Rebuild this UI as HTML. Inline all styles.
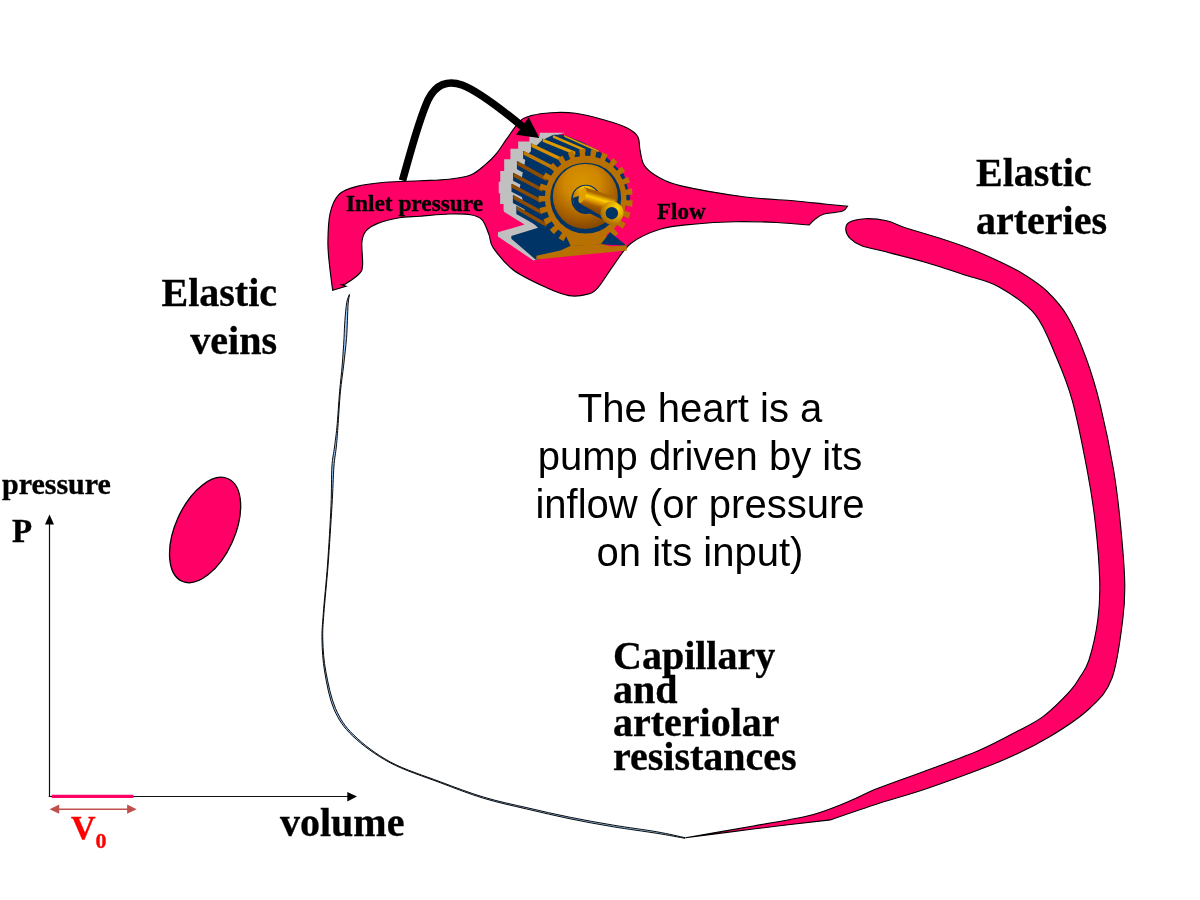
<!DOCTYPE html>
<html><head><meta charset="utf-8"><style>
html,body{margin:0;padding:0;background:#fff;-webkit-font-smoothing:antialiased;}
body{width:1200px;height:900px;position:relative;overflow:hidden;}
svg{position:absolute;left:0;top:0;}
.t{will-change:transform;-webkit-text-stroke:0.35px currentColor;position:absolute;white-space:nowrap;font-family:"Liberation Serif",serif;font-weight:bold;color:#000;line-height:1;}
.s{will-change:transform;position:absolute;white-space:nowrap;font-family:"Liberation Sans",sans-serif;color:#000;text-align:center;}
</style></head><body>
<svg width="1200" height="900" viewBox="0 0 1200 900">
<defs>
<radialGradient id="disc" cx="0.45" cy="0.3" r="0.75">
<stop offset="0" stop-color="#D89400"/><stop offset="0.35" stop-color="#D08800"/><stop offset="0.7" stop-color="#A86000"/><stop offset="1" stop-color="#7A4000"/>
</radialGradient>
<radialGradient id="hubg" cx="0.5" cy="0.1" r="0.8">
<stop offset="0" stop-color="#FFD000"/><stop offset="0.5" stop-color="#D89000"/><stop offset="1" stop-color="#A06000"/>
</radialGradient>
<linearGradient id="shaft" x1="0" y1="0" x2="0" y2="1" gradientUnits="objectBoundingBox">
<stop offset="0" stop-color="#FFD000"/><stop offset="0.5" stop-color="#D89000"/><stop offset="1" stop-color="#8A5000"/>
</linearGradient>
<radialGradient id="cap" cx="0.7" cy="0.3" r="0.8">
<stop offset="0" stop-color="#FFD800"/><stop offset="0.45" stop-color="#E0A800"/><stop offset="1" stop-color="#A06000"/>
</radialGradient>
<linearGradient id="shaft2" gradientUnits="userSpaceOnUse" x1="620" y1="430" x2="590" y2="530">
<stop offset="0" stop-color="#A86400"/><stop offset="0.3" stop-color="#FFD000"/><stop offset="0.55" stop-color="#D89000"/><stop offset="0.75" stop-color="#A86000"/><stop offset="1" stop-color="#8A4A00"/>
</linearGradient>
</defs>
<path d="M349.3,294.5 C348.9,295.9 347.4,298.4 346.7,302.8 C346.0,307.2 345.3,314.7 344.9,320.6 C344.4,326.5 344.4,330.9 344.0,338.3 C343.6,345.7 342.9,356.1 342.2,365.0 C341.5,373.9 340.5,381.3 339.6,391.7 C338.7,402.1 337.8,418.0 336.9,427.2 C336.0,436.4 335.3,440.4 334.5,447.0 C333.7,453.6 332.5,457.1 331.9,466.9 C331.3,476.7 331.7,489.2 331.0,505.6 C330.3,522.0 328.8,547.0 327.5,565.0 C326.2,583.0 324.2,600.8 323.3,613.3 C322.4,625.8 321.8,630.2 322.0,640.0 C322.2,649.8 322.7,660.5 324.7,672.0 C326.7,683.5 329.3,698.6 334.0,709.3 C338.7,720.0 343.4,727.1 352.7,736.0 C362.0,744.9 375.4,754.9 390.0,762.7 C404.6,770.5 424.4,776.7 440.0,782.6 C455.6,788.5 468.9,793.8 483.3,798.2 C497.8,802.6 512.2,805.6 526.7,809.0 C541.2,812.4 555.6,815.8 570.0,818.8 C584.4,821.8 598.8,824.4 613.3,826.8 C627.8,829.2 644.8,831.4 656.7,833.3 C668.7,835.2 680.3,837.5 685.0,838.3 L685.1,837.7 C680.4,836.7 668.9,833.9 656.9,831.8 C645.0,829.7 628.0,827.6 613.6,825.2 C599.1,822.8 584.7,820.2 570.3,817.3 C555.9,814.4 541.4,811.1 527.0,807.7 C512.6,804.4 498.1,801.5 483.6,797.1 C469.2,792.8 455.9,787.6 440.3,781.8 C424.8,775.9 404.8,769.8 390.4,762.0 C375.9,754.2 362.8,743.9 353.7,735.0 C344.5,726.1 340.3,719.1 335.6,708.6 C331.0,698.0 328.0,683.2 325.9,671.8 C323.7,660.4 323.1,649.7 322.8,640.0 C322.5,630.2 323.0,625.8 323.9,613.3 C324.8,600.9 326.7,583.0 328.1,565.0 C329.4,547.1 331.0,522.0 332.0,505.6 C333.0,489.3 333.2,476.8 333.9,467.0 C334.6,457.3 335.6,453.8 336.3,447.2 C337.0,440.6 337.2,436.5 337.9,427.3 C338.6,418.0 339.4,402.1 340.4,391.8 C341.4,381.4 342.7,374.0 343.7,365.1 C344.7,356.2 345.9,345.8 346.5,338.5 C347.1,331.1 347.1,326.7 347.4,320.8 C347.7,314.9 347.8,307.4 348.2,303.0 C348.5,298.7 349.4,296.0 349.6,294.6 Z" fill="#99CCFF" stroke="#000" stroke-width="0.95"/>
<path d="M332.7,290.3 C332.7,290.3 330.3,273.0 329.5,265.0 C328.7,257.0 327.8,250.8 327.9,242.2 C328.0,233.6 328.3,221.2 330.1,213.3 C331.9,205.4 334.5,199.1 338.8,194.6 C343.1,190.1 348.4,188.6 356.1,186.6 C363.8,184.6 374.4,183.3 385.0,182.3 C395.6,181.3 409.4,181.3 420.0,180.8 C430.6,180.3 440.5,180.3 448.9,179.3 C457.3,178.3 464.6,177.4 470.6,175.0 C476.6,172.6 480.7,168.5 485.0,164.9 C489.3,161.3 493.0,157.6 496.6,153.3 C500.2,149.0 502.8,144.3 506.7,138.9 C510.6,133.5 515.9,125.0 520.0,121.1 C524.1,117.2 525.9,117.0 531.1,115.6 C536.3,114.2 543.7,113.1 551.1,112.7 C558.5,112.3 566.7,112.1 575.6,113.3 C584.5,114.5 595.9,117.6 604.4,120.0 C612.9,122.4 621.1,125.0 626.7,127.8 C632.3,130.6 635.6,133.0 637.8,136.7 C640.0,140.4 638.9,145.2 640.0,150.0 C641.1,154.8 641.4,161.2 644.4,165.6 C647.4,170.0 651.9,173.4 657.8,176.7 C663.7,180.0 665.8,182.3 680.0,185.6 C694.2,188.9 724.4,194.2 743.3,196.7 C762.2,199.2 779.4,199.6 793.3,200.8 C807.2,202.1 817.7,203.3 826.7,204.2 C835.7,205.1 847.5,206.3 847.5,206.3 C847.5,206.3 845.4,209.8 843.3,210.8 C841.2,211.8 838.3,211.9 835.0,212.5 C831.7,213.1 826.6,213.1 823.3,214.2 C820.0,215.3 817.4,217.4 815.0,219.2 C812.6,221.0 809.2,225.0 809.2,225.0 C809.2,225.0 789.1,223.1 776.7,222.5 C764.3,221.9 748.9,221.4 735.0,221.7 C721.1,222.0 705.8,222.9 693.3,224.2 C680.8,225.4 670.4,226.0 660.0,229.2 C649.6,232.4 638.9,237.2 631.1,243.3 C623.3,249.4 618.8,258.2 613.3,265.6 C607.8,273.0 602.2,283.0 597.8,287.8 C593.4,292.6 591.5,293.1 586.7,294.4 C581.9,295.7 575.6,296.7 568.9,295.6 C562.2,294.5 556.0,292.1 546.7,287.8 C537.4,283.5 522.2,276.7 513.3,270.0 C504.4,263.3 497.4,253.7 493.3,247.8 C489.2,241.9 490.8,239.1 488.9,234.4 C487.0,229.7 485.2,223.1 482.1,219.8 C479.1,216.5 476.1,215.7 470.6,214.7 C465.1,213.7 457.3,213.8 448.9,214.0 C440.5,214.2 428.2,215.6 420.0,216.2 C411.8,216.8 406.4,216.5 399.4,217.7 C392.4,218.9 383.3,221.2 377.8,223.4 C372.3,225.6 368.9,227.6 366.2,230.7 C363.5,233.8 362.5,236.4 361.9,242.2 C361.3,248.0 363.1,260.0 362.6,265.3 C362.1,270.6 361.9,270.9 359.0,274.0 C356.1,277.1 345.3,284.1 345.3,284.1 C345.3,284.1 341.7,284.8 341.7,284.8 C341.7,284.8 346.0,286.3 346.0,286.3 C346.0,286.3 332.7,290.3 332.7,290.3 Z" fill="#FF0066" stroke="#000" stroke-width="1.15" stroke-linejoin="miter"/>
<path d="M845.8,230.0 C845.6,227.4 845.8,224.4 849.0,222.5 C852.2,220.6 858.7,219.0 865.0,218.7 C871.3,218.4 879.8,219.2 886.7,220.8 C893.7,222.4 897.8,225.4 906.7,228.3 C915.6,231.2 928.9,234.7 940.0,238.3 C951.1,241.9 962.2,245.6 973.3,250.0 C984.4,254.4 998.4,261.0 1006.7,265.0 C1015.0,269.0 1016.6,269.7 1023.3,274.0 C1030.0,278.3 1039.3,283.9 1046.7,291.0 C1054.1,298.1 1061.1,305.4 1067.7,316.7 C1074.3,328.0 1080.9,343.9 1086.3,358.7 C1091.7,373.5 1095.8,386.8 1100.3,405.3 C1104.8,423.9 1110.2,449.9 1113.6,470.0 C1117.0,490.1 1118.8,507.1 1120.6,525.6 C1122.4,544.1 1124.3,565.4 1124.7,581.1 C1125.1,596.8 1124.8,603.9 1122.7,620.0 C1120.6,636.1 1117.5,663.3 1112.0,678.0 C1106.5,692.7 1100.3,698.2 1090.0,708.0 C1079.7,717.8 1064.5,727.8 1050.0,736.5 C1035.5,745.2 1023.3,751.5 1003.3,760.0 C983.3,768.5 950.5,780.3 930.0,787.5 C909.5,794.7 896.6,797.6 880.0,803.0 C863.4,808.4 830.3,819.9 830.3,819.9 C830.3,819.9 777.4,826.0 753.3,829.0 C729.2,832.0 685.5,837.8 685.5,837.8 C685.5,837.8 732.8,829.7 753.3,826.0 C773.8,822.3 793.0,819.6 808.3,815.8 C823.6,812.0 833.4,807.6 845.0,803.0 C856.6,798.4 863.8,793.9 878.0,788.3 C892.2,782.7 913.0,775.6 930.0,769.2 C947.0,762.8 965.5,756.3 980.0,750.0 C994.5,743.7 1006.2,737.2 1016.7,731.6 C1027.2,726.0 1034.4,723.1 1043.3,716.4 C1052.2,709.6 1063.9,697.7 1070.0,691.1 C1076.1,684.5 1076.8,682.2 1080.0,677.0 C1083.2,671.8 1086.0,669.5 1089.0,660.0 C1092.0,650.5 1096.0,633.1 1097.8,620.0 C1099.6,606.9 1100.1,596.8 1099.7,581.1 C1099.3,565.4 1097.6,543.8 1095.6,525.6 C1093.6,507.4 1091.4,492.8 1087.5,472.0 C1083.6,451.2 1077.5,420.0 1072.3,400.7 C1067.0,381.4 1062.2,370.7 1056.0,356.3 C1049.8,341.9 1044.5,325.9 1035.0,314.3 C1025.5,302.8 1010.7,293.6 999.0,287.0 C987.3,280.4 977.6,279.2 965.0,275.0 C952.4,270.8 937.2,265.7 923.3,261.7 C909.4,257.7 892.0,253.5 881.7,250.8 C871.4,248.2 867.0,247.9 861.7,245.8 C856.4,243.7 852.6,240.9 850.0,238.3 C847.4,235.7 846.0,232.6 845.8,230.0 Z" fill="#FF0066" stroke="#000" stroke-width="1.1"/>
<ellipse cx="205.1" cy="530" rx="29.7" ry="56.2" transform="rotate(24.2 205.1 530)" fill="#FF0066" stroke="#000" stroke-width="1.3"/>
<g transform="translate(495 125) scale(0.155556)"><polygon points="450.0,50.0 287.0,50.0 287.0,52.0 287.0,74.0 221.0,74.0 221.0,106.0 149.0,106.0 149.0,153.0 99.0,153.0 99.0,220.0 59.0,220.0 59.0,295.0 34.0,295.0 34.0,365.0 24.0,365.0 24.0,438.0 33.0,438.0 33.0,508.0 55.0,508.0 55.0,548.0 60.0,560.0 190.0,640.0 19.0,690.0 19.0,717.0 247.0,871.0 268.0,866.0 330.0,640.0 250.0,400.0 380.0,70.0" fill="#C0C0C0" />
<polygon points="375.0,62.0 440.0,62.0 560.0,110.0 700.0,190.0 830.0,320.0 870.0,470.0 820.0,570.0 700.0,700.0 690.0,766.0 262.0,866.0 105.0,732.0 105.0,713.0 277.0,661.0 200.0,590.0 160.0,400.0 200.0,200.0 300.0,100.0" fill="#003366" />
<polygon points="441.0,64.0 666.0,163.0 666.0,215.0 441.0,116.0" fill="#003366" />
<polygon points="444.0,64.0 666.0,163.0 666.0,175.0 444.0,76.0" fill="#DC9A00" />
<polygon points="369.0,64.0 581.0,154.0 581.0,206.0 369.0,116.0" fill="#003366" />
<polygon points="372.0,64.0 581.0,154.0 581.0,172.0 372.0,82.0" fill="#DC9A00" />
<polygon points="303.0,86.0 516.0,171.0 516.0,223.0 303.0,138.0" fill="#003366" />
<polygon points="306.0,86.0 516.0,171.0 516.0,193.0 306.0,108.0" fill="#DC9A00" />
<polygon points="231.0,118.0 431.0,210.0 431.0,262.0 231.0,170.0" fill="#003366" />
<polygon points="234.0,118.0 431.0,210.0 431.0,234.0 234.0,142.0" fill="#D89000" />
<polygon points="181.0,165.0 390.0,270.0 390.0,322.0 181.0,217.0" fill="#003366" />
<polygon points="184.0,165.0 390.0,270.0 390.0,296.0 184.0,191.0" fill="#C07800" />
<polygon points="141.0,232.0 330.0,335.0 330.0,387.0 141.0,284.0" fill="#003366" />
<polygon points="144.0,232.0 330.0,335.0 330.0,361.0 144.0,258.0" fill="#8E4C00" />
<polygon points="116.0,307.0 305.0,405.0 305.0,457.0 116.0,359.0" fill="#003366" />
<polygon points="119.0,307.0 305.0,405.0 305.0,431.0 119.0,333.0" fill="#8E4C00" />
<polygon points="106.0,377.0 295.0,475.0 295.0,527.0 106.0,429.0" fill="#003366" />
<polygon points="109.0,377.0 295.0,475.0 295.0,501.0 109.0,403.0" fill="#8E4C00" />
<polygon points="115.0,450.0 300.0,550.0 300.0,602.0 115.0,502.0" fill="#003366" />
<polygon points="118.0,450.0 300.0,550.0 300.0,576.0 118.0,476.0" fill="#8E4C00" />
<polygon points="137.0,520.0 330.0,630.0 330.0,682.0 137.0,572.0" fill="#003366" />
<polygon points="140.0,520.0 330.0,630.0 330.0,656.0 140.0,546.0" fill="#8E4C00" />
<polygon points="885.6,485.7 881.3,525.1 841.0,517.6 833.2,550.9 872.3,563.5 858.8,600.5 821.5,582.8 806.0,613.0 840.9,635.4 818.9,667.7 787.0,641.0 764.8,666.2 793.2,696.9 764.2,722.5 739.7,688.4 712.2,707.1 732.4,744.2 698.1,761.5 682.6,722.0 651.4,733.0 651.4,733.0 619.2,739.9 619.2,739.9 586.4,742.5 586.4,742.5 553.5,740.7 553.5,740.7 521.1,734.8 521.1,734.8 489.7,724.6 489.7,724.6 459.7,710.4 440.4,748.1 408.1,727.3 431.7,692.5 406.1,671.0 378.4,702.5 352.0,674.0 383.3,646.4 363.6,618.9 329.3,642.2 310.5,607.8 347.4,589.2 334.9,557.5 296.1,571.2 286.1,533.0 326.3,524.5 321.7,490.6 280.9,493.8 280.4,454.3 321.3,456.4 325.0,422.4 284.7,414.9 293.7,376.5 332.8,389.1 344.5,357.2 307.2,339.5 325.1,304.6 360.0,327.0 379.0,299.0 347.1,272.3 372.8,243.1 401.2,273.8 426.3,251.6 401.8,217.5 433.6,195.8 453.8,232.9 483.4,218.0 467.9,178.5 503.9,165.8 514.6,207.0 546.8,200.1 541.2,157.9 579.1,154.9 579.6,197.5 612.5,199.3 617.1,156.9 654.6,163.8 644.9,205.2 676.3,215.4 690.9,175.5 725.6,191.9 706.3,229.6 734.3,247.5 757.9,212.7 787.6,237.5 759.9,269.0 782.7,293.6 814.0,266.0 836.7,297.8 802.4,321.1 818.6,350.8 855.5,332.2 869.9,368.8 831.1,382.5 839.7,415.5 879.9,407.0 885.1,446.2 844.3,449.4 844.7,483.6" fill="#B87000" />
<polygon points="450.0,700.0 720.0,700.0 700.0,768.0 487.0,778.0" fill="#B87000" />
<polygon points="680.0,766.0 740.0,690.0 847.0,777.0" fill="#003366" />
<polygon points="266.0,841.0 420.0,807.0 487.0,777.0 690.0,766.0 750.0,781.0 847.0,773.0 847.0,807.0 266.0,864.0" fill="#B87000" />
<circle cx="583" cy="470" r="228" fill="#003366"/>
<circle cx="581" cy="459" r="209" fill="url(#disc)"/>
<circle cx="584" cy="478" r="94" fill="#003366"/>
<circle cx="584" cy="474" r="84" fill="url(#hubg)"/>
<polygon points="500,470 508,514 546,559 604,566 700,612 739,595 559,492 545,455" fill="#003366"/>
<polygon points="574,398 782,466 732,610 550,508" fill="url(#shaft2)"/>
<ellipse cx="562" cy="453" rx="20" ry="52" transform="rotate(20 562 453)" fill="#E0A000"/>
<circle cx="752" cy="566" r="74" fill="url(#cap)"/>
<circle cx="751" cy="567" r="40" fill="#003366"/></g>
<!-- curved arrow -->
<path d="M402.5,180.5 C409,158 418,122 428,100 C436,84 448,80 462,85 C478,91 500,108 523,127" fill="none" stroke="#000" stroke-width="7.6"/>
<polygon points="539.3,138 516,134.7 528.7,117.3" fill="#000"/>
<!-- axes -->
<line x1="49.5" y1="797" x2="49.5" y2="523" stroke="#111" stroke-width="1.2"/>
<polygon points="49.5,514.5 45,524.5 54,524.5" fill="#000"/>
<line x1="48.8" y1="796.5" x2="348" y2="796.5" stroke="#111" stroke-width="1.2"/>
<polygon points="357,796.5 347.3,791.9 347.3,801.5" fill="#000"/>
<line x1="51.7" y1="796.4" x2="133.3" y2="796.4" stroke="#FF0066" stroke-width="3.2"/>
<line x1="57" y1="809.2" x2="130" y2="809.2" stroke="#C0504D" stroke-width="1.5"/>
<polygon points="49.6,809.2 59.2,804.6 59.2,813.8" fill="#C0504D"/>
<polygon points="136.7,809.2 127.1,804.6 127.1,813.8" fill="#C0504D"/>
</svg>
<div class="t" style="left:975.5px;top:148.7px;font-size:40px;line-height:48px;">Elastic<br>arteries</div>
<div class="t" style="left:150px;top:268.5px;width:127px;text-align:right;font-size:40px;line-height:48px;">Elastic<br>veins</div>
<div class="s" style="left:500px;top:384px;width:400px;font-size:40px;line-height:48px;">The heart is a<br>pump driven by its<br>inflow (or pressure<br>on its input)</div>
<div class="t" style="left:613px;top:639.2px;font-size:40px;line-height:33.5px;">Capillary<br>and<br>arteriolar<br>resistances</div>
<div class="t" style="left:346px;top:191.8px;font-size:23.3px;">Inlet pressure</div>
<div class="t" style="left:657px;top:199.5px;font-size:23px;">Flow</div>
<div class="t" style="left:2px;top:469px;font-size:30px;">pressure</div>
<div class="t" style="left:12px;top:515px;font-size:33px;">P</div>
<div class="t" style="left:280px;top:803px;font-size:40px;">volume</div>
<div class="t" style="left:70.5px;top:810.5px;font-size:34px;color:#FF0000;">V<span style="font-size:22px;position:relative;top:9px;margin-left:0px;">0</span></div>
</body></html>
